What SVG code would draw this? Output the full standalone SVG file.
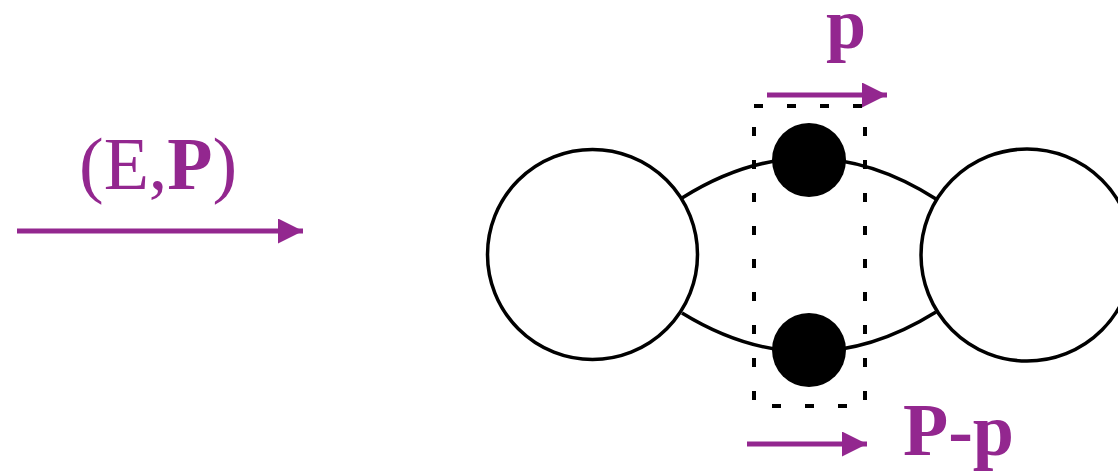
<svg xmlns="http://www.w3.org/2000/svg" width="1118" height="472" viewBox="0 0 1118 472">
<style>
.lbl{font-family:"Liberation Serif","Times New Roman",serif;font-size:74px;fill:#93278f}
.b{font-weight:bold}
.arrow{stroke:#93278f;stroke-width:5;fill:none}
.ring{fill:#fff;stroke:#000;stroke-width:3.5}
.arc{fill:none;stroke:#000;stroke-width:3.5}
.dot{fill:#000}
.box{fill:none;stroke:#000;stroke-width:4;stroke-dasharray:9 24}
</style>
<defs>
<marker id="ah" markerUnits="userSpaceOnUse" markerWidth="26" markerHeight="26" refX="25" refY="12.5" orient="auto">
<path d="M0,0 L25,12.5 L0,25 Z" fill="#93278f"/>
</marker>
</defs>
<g id="connectors">
<path class="arc" d="M682,198 Q809,118 936,199"/>
<path class="arc" d="M682,313 Q809,391 936,312"/>
</g>
<g id="nodeA"><circle class="ring" cx="592.5" cy="254.5" r="105"/></g>
<g id="nodeB"><circle class="ring" cx="1027" cy="255" r="106"/></g>
<g id="box"><rect class="box" x="754" y="106" width="111" height="300"/></g>
<g id="dotTop"><circle class="dot" cx="809" cy="160" r="37"/></g>
<g id="dotBottom"><circle class="dot" cx="809" cy="350" r="37"/></g>
<g id="incoming">
<line class="arrow" x1="17" y1="231" x2="303" y2="231" marker-end="url(#ah)"/>
<text class="lbl" x="79" y="189"><tspan>(E,</tspan><tspan class="b">P</tspan><tspan>)</tspan></text>
</g>
<g id="momentumP">
<line class="arrow" x1="767" y1="95" x2="887" y2="95" marker-end="url(#ah)"/>
<text class="lbl b" x="826" y="48" style="font-size:72px">p</text>
</g>
<g id="momentumPp">
<line class="arrow" x1="747" y1="444" x2="867" y2="444" marker-end="url(#ah)"/>
<text class="lbl b" x="903" y="455">P-p</text>
</g>
</svg>
